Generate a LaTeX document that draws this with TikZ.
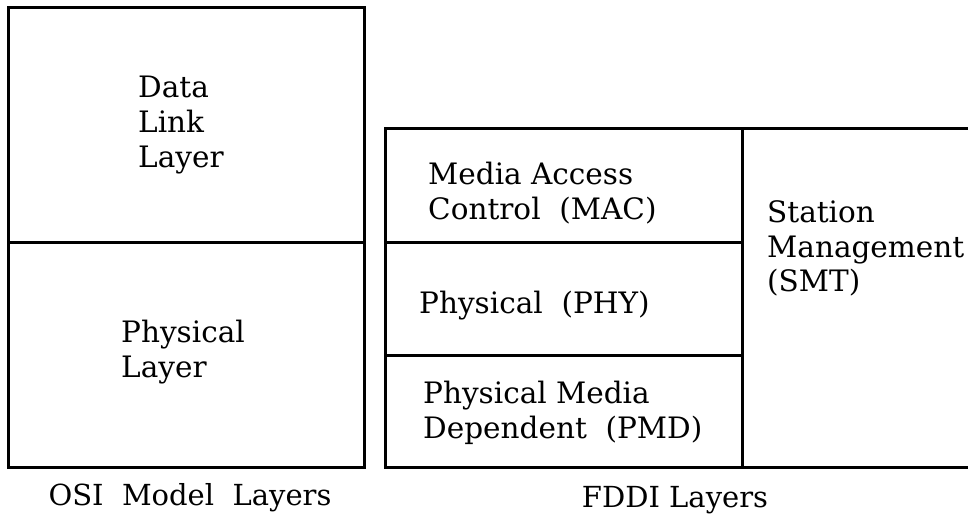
\documentclass[tikz,border=0pt]{standalone}
\usepackage{fontspec}
\setmainfont{DejaVu Serif}
\begin{document}
\begin{tikzpicture}[x=1pt,y=-1pt,
  frame/.style={line width=3pt,line cap=rect,line join=miter},
  label/.style={inner sep=0pt,anchor=base west,align=left,
    font=\fontsize{29.5}{35}\selectfont},
  caption/.style={inner sep=0pt,anchor=base,
    font=\fontsize{29}{35}\selectfont}]
\useasboundingbox (0,0) rectangle (968,518);
\clip (0,0) rectangle (968,518);

% OSI model stack
\draw[frame] (8,8) rectangle (364,467);
\draw[frame] (8,243) -- (364,243);

% FDDI stack and the station management column
\draw[frame] (385,129) -- (742,129) -- (742,467) -- (385,467) -- cycle;
\draw[frame] (742,129) -- (970,129);
\draw[frame] (742,467) -- (970,467);
\draw[frame] (385,243) -- (742,243);
\draw[frame] (385,355) -- (742,355);

% Layer names (anchored at the baseline of the last line)
\node[label] (dll) at (138,168) {Data\\Link\\Layer};
\node[label] (phl) at (121,377) {Physical\\Layer};
\node[label] (mac) at (428,220) {Media Access\\Control\ \ (MAC)};
\node[label] (phy) at (419,313) {Physical\ \ (PHY)};
\node[label] (pmd) at (423,438) {Physical Media\\Dependent\ \ (PMD)};
\node[label] (smt) at (767,292) {Station\\Management\\(SMT)};

% Captions
\node[caption] (osi) at (190,505) {OSI\ \ Model\ \ Layers};
\node[caption] (fddi) at (675,507) {FDDI Layers};
\end{tikzpicture}
\end{document}
